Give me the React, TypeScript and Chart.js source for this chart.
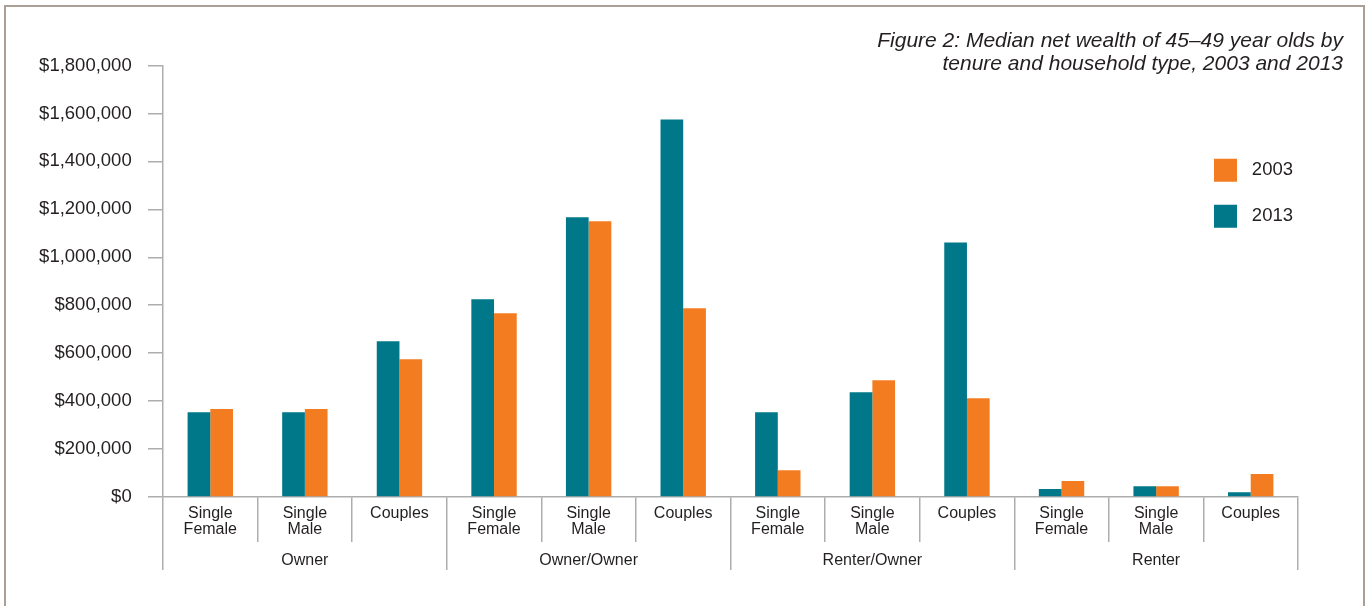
import React, { useEffect, useRef } from 'react';
import { Chart, registerables } from 'chart.js';

Chart.register(...registerables);

// ---- data ----
const subCategories: (string | string[])[] = [
  ['Single', 'Female'], ['Single', 'Male'], 'Couples',
  ['Single', 'Female'], ['Single', 'Male'], 'Couples',
  ['Single', 'Female'], ['Single', 'Male'], 'Couples',
  ['Single', 'Female'], ['Single', 'Male'], 'Couples',
];
const groups = ['Owner', 'Owner/Owner', 'Renter/Owner', 'Renter'];
const series2013 = [354000, 354000, 650000, 825000, 1167000, 1575000, 354000, 437000, 1062000, 33000, 45000, 20000];
const series2003 = [367000, 367000, 575000, 767000, 1150000, 787000, 112000, 487000, 412000, 67000, 45000, 96000];
const seriesLabels = ['2013', '2003'];
const yMin = 0;
const yMax = 1800000;
const yStep = 200000;
const titleLines = [
  'Figure 2: Median net wealth of 45–49 year olds by',
  'tenure and household type, 2003 and 2013',
];

// ---- styles ----
const FONT = "'Liberation Sans', Arial, Helvetica, sans-serif";
const TEXT = '#231f20';
const GRID = '#adadad';
const TEAL = '#007889';
const ORANGE = '#f47c20';
const FRAME = '#a99f94';

const placeBoxes = {
  id: 'placeBoxes',
  afterLayout(chart: any) {
    const t = chart.titleBlock;
    if (t) {
      t.left = 0;
      t.right = 1343;
      t.width = t.right - t.left;
    }
    const l = chart.legend;
    if (l) {
      l.left = 1191;
      l.right = 1293;
      l.top = 135.7;
      l.bottom = 135.7 + 200;
      l.width = l.right - l.left;
      l.height = l.bottom - l.top;
    }
  },
};

export default function App() {
  const ref = useRef<HTMLCanvasElement | null>(null);

  useEffect(() => {
    if (!ref.current) return;
    const chart = new Chart(ref.current, {
      type: 'bar',
      data: {
        labels: subCategories as any,
        datasets: [
          { label: seriesLabels[0], data: series2013, backgroundColor: TEAL, borderWidth: 0 },
          { label: seriesLabels[1], data: series2003, backgroundColor: ORANGE, borderWidth: 0 },
        ],
      },
      options: {
        responsive: false,
        animation: false,
        devicePixelRatio: 1,
        datasets: { bar: { categoryPercentage: 0.48, barPercentage: 1.0 } },
        layout: { padding: { left: 0, right: 73, top: 0, bottom: 29 } },
        plugins: {
          title: {
            display: true,
            text: titleLines,
            align: 'end',
            color: TEXT,
            font: { family: FONT, size: 21, style: 'italic', weight: 'normal', lineHeight: 23 / 21 },
            padding: { top: 29.5, bottom: -10 },
          },
          legend: {
            display: true,
            position: 'chartArea' as any,
            align: 'start',
            reverse: true,
            labels: {
              boxWidth: 23,
              boxHeight: 23,
              padding: 23,
              color: TEXT,
              textAlign: 'right',
              font: { family: FONT, size: 18.5 },
            },
          },
          tooltip: { enabled: false },
        },
        scales: {
          x: {
            type: 'category',
            offset: true,
            grid: { offset: true, drawOnChartArea: false, tickLength: 45, color: GRID, lineWidth: 1.5 },
            border: { display: true, color: GRID, width: 1.5 },
            ticks: {
              autoSkip: false,
              maxRotation: 0,
              minRotation: 0,
              padding: -36.7,
              color: TEXT,
              font: { family: FONT, size: 16, lineHeight: 1 },
            },
            afterFit: (s: any) => { s.height = 45; },
          },
          x2: {
            type: 'category',
            position: 'bottom',
            labels: groups,
            offset: true,
            grid: { offset: true, drawOnChartArea: false, tickLength: 28, color: GRID, lineWidth: 1.5 },
            border: { display: false },
            ticks: {
              autoSkip: false,
              maxRotation: 0,
              minRotation: 0,
              padding: -17.3,
              color: TEXT,
              font: { family: FONT, size: 16, lineHeight: 1 },
            },
            afterFit: (s: any) => { s.height = 35; },
          },
          y: {
            type: 'linear',
            position: 'left',
            min: yMin,
            max: yMax,
            grid: { drawOnChartArea: false, tickLength: 15, color: GRID, lineWidth: 1.5 },
            border: { display: true, color: GRID, width: 1.5 },
            ticks: {
              stepSize: yStep,
              padding: 16.3,
              color: TEXT,
              font: { family: FONT, size: 18.5 },
              callback: (v: any) => '$' + Number(v).toLocaleString('en-US'),
            },
            afterFit: (s: any) => { s.width = 163; },
          },
        },
      } as any,
      plugins: [placeBoxes],
    });
    return () => chart.destroy();
  }, []);

  return (
    <div style={{ position: 'absolute', left: 0, top: 0, width: 1371, height: 606, overflow: 'hidden', background: '#fff' }}>
      <canvas ref={ref} width={1371} height={606} style={{ display: 'block', position: 'absolute', left: 0, top: 0 }} />
      <div
        style={{
          position: 'absolute',
          left: 4,
          top: 5,
          width: 1361,
          height: 601,
          border: `2px solid ${FRAME}`,
          borderBottom: 'none',
          boxSizing: 'border-box',
          pointerEvents: 'none',
        }}
      />
    </div>
  );
}
